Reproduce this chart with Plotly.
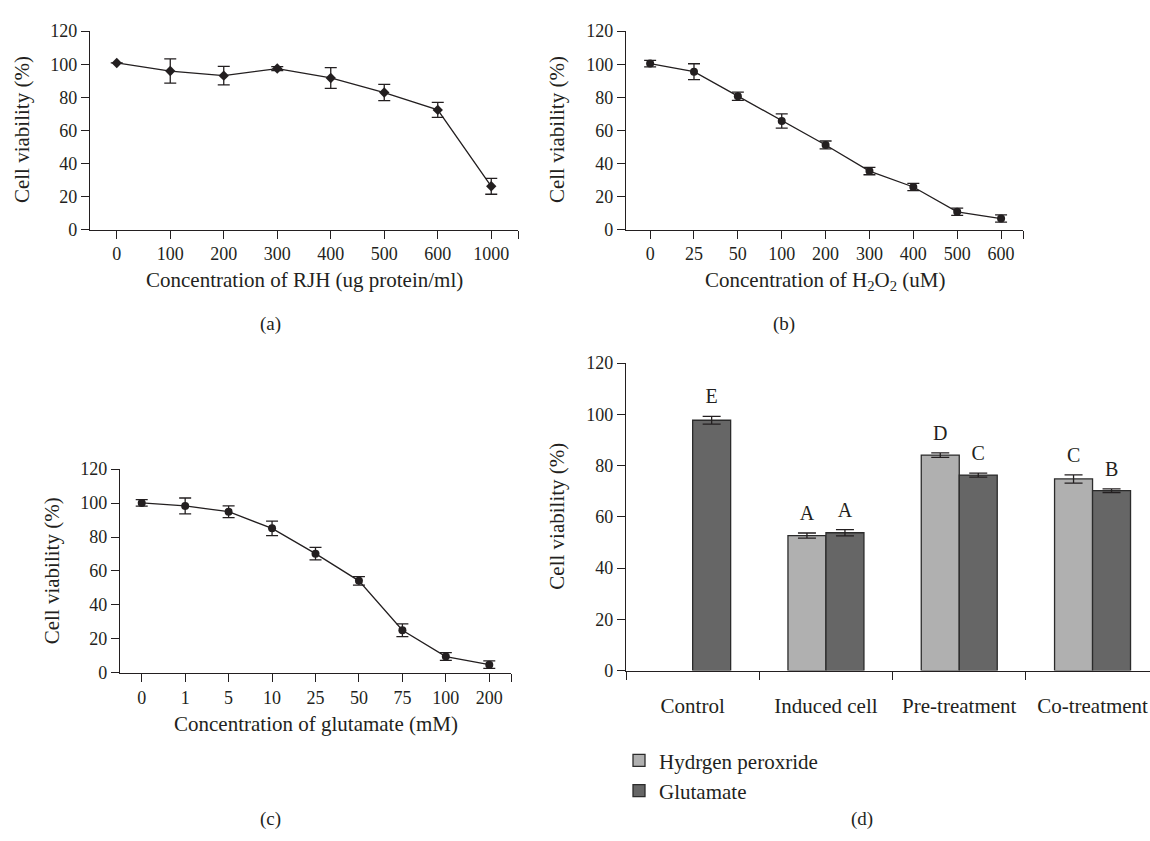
import plotly.graph_objects as go

# ---------------- data ----------------
a_labels = ["0", "100", "200", "300", "400", "500", "600", "1000"]
a_values = [100.8, 95.9, 93.1, 97.4, 91.7, 82.9, 72.4, 26.2]
a_errors = [0.0, 7.3, 5.6, 1.2, 6.3, 4.9, 4.5, 4.8]

b_labels = ["0", "25", "50", "100", "200", "300", "400", "500", "600"]
b_values = [100.4, 95.5, 80.7, 65.7, 51.2, 35.4, 25.8, 10.8, 6.7]
b_errors = [2.0, 4.8, 2.5, 4.3, 2.4, 2.2, 2.2, 2.2, 2.2]

c_labels = ["0", "1", "5", "10", "25", "50", "75", "100", "200"]
c_values = [100.1, 98.3, 94.9, 85.1, 70.2, 54.2, 25.1, 9.6, 4.8]
c_errors = [1.9, 4.7, 3.5, 4.3, 3.7, 2.5, 3.8, 2.3, 2.2]

d_groups = ["Control", "Induced cell", "Pre-treatment", "Co-treatment"]
d_h2o2 = [None, 52.7, 84.1, 74.8]
d_h2o2_err = [0.0, 1.0, 0.9, 1.6]
d_h2o2_letters = ["", "A", "D", "C"]
d_glu = [97.7, 53.8, 76.3, 70.2]
d_glu_err = [1.5, 1.2, 0.8, 0.7]
d_glu_letters = ["E", "A", "C", "B"]

y_ticks = [0, 20, 40, 60, 80, 100, 120]

# ---------------- style ----------------
INK = "#231f20"
FONT = "Liberation Serif"
FS_NUM = 18     # numeric tick labels
FS_TXT = 21     # word labels / titles
FS_LET = 20     # significance letters
LIGHT = "#b0b0b0"
DARK = "#666666"
BAR_W = 0.285
LETTER_PAD = 7

W, H = 1150, 841


def px_x(p):
    return p / W


def px_y(p):
    return 1 - p / H


fig = go.Figure()


def line_panel(xa, ya, labels, values, errors, symbol, size):
    idx = list(range(len(labels)))
    fig.add_trace(go.Scatter(
        x=idx, y=values, xaxis=xa, yaxis=ya, mode="lines+markers",
        line=dict(color=INK, width=1.3),
        marker=dict(symbol=symbol, size=size, color=INK),
        error_y=dict(type="data", array=errors, visible=True, color=INK,
                     thickness=1.3, width=6),
        showlegend=False, hoverinfo="x+y"))


line_panel("x", "y", a_labels, a_values, a_errors, "diamond", 8)
line_panel("x2", "y2", b_labels, b_values, b_errors, "circle", 8)
line_panel("x3", "y3", c_labels, c_values, c_errors, "circle", 8)

# ---------------- bar panel (d) ----------------
d_idx = list(range(len(d_groups)))
fig.add_trace(go.Bar(
    x=d_idx, y=d_h2o2, xaxis="x4", yaxis="y4", name="Hydrgen peroxride",
    width=BAR_W, offset=-BAR_W,
    marker=dict(color=LIGHT, line=dict(color="#2b2b2b", width=1.3)),
    error_y=dict(type="data", array=d_h2o2_err, visible=True, color=INK,
                 thickness=1.3, width=9)))
fig.add_trace(go.Bar(
    x=d_idx, y=d_glu, xaxis="x4", yaxis="y4", name="Glutamate",
    width=BAR_W, offset=0,
    marker=dict(color=DARK, line=dict(color="#2b2b2b", width=1.3)),
    error_y=dict(type="data", array=d_glu_err, visible=True, color=INK,
                 thickness=1.3, width=9)))

# significance letters
lx, ly, lt = [], [], []
for i in d_idx:
    if d_h2o2[i] is not None and d_h2o2_letters[i]:
        lx.append(i - BAR_W / 2)
        ly.append(d_h2o2[i] + d_h2o2_err[i] + LETTER_PAD)
        lt.append(d_h2o2_letters[i])
    if d_glu[i] is not None and d_glu_letters[i]:
        lx.append(i + BAR_W / 2)
        ly.append(d_glu[i] + d_glu_err[i] + LETTER_PAD)
        lt.append(d_glu_letters[i])
fig.add_trace(go.Scatter(
    x=lx, y=ly, text=lt, mode="text", xaxis="x4", yaxis="y4",
    textposition="middle center",
    textfont=dict(family=FONT, size=FS_LET, color=INK),
    showlegend=False, hoverinfo="skip"))

# ---------------- axes ----------------
base = dict(showline=True, linecolor=INK, linewidth=1.3, ticks="outside",
            ticklen=8, tickwidth=1.3, tickcolor=INK, showgrid=False,
            zeroline=False, tickfont=dict(family=FONT, size=FS_NUM, color=INK),
            fixedrange=True)


def yax(dom, anchor):
    return dict(base, domain=dom, anchor=anchor, range=[0, 120],
                tickmode="array", tickvals=y_ticks)


def xax_cat(dom, anchor, labels, lo, hi):
    n = len(labels)
    return dict(base, domain=dom, anchor=anchor, range=[lo, hi],
                tickmode="array", tickvals=list(range(n)), ticktext=labels,
                minor=dict(tickmode="array", tickvals=[hi], ticks="outside",
                           ticklen=8, tickwidth=1.3, tickcolor=INK,
                           showgrid=False))


ya_dom = [px_y(225), px_y(21.7)]
yc_dom = [px_y(679), px_y(470.3)]
yd_dom = [px_y(676.7), px_y(361.7)]

fig.update_layout(
    xaxis=xax_cat([px_x(90), px_x(518)], "y", a_labels, -0.5, 7.5),
    yaxis=yax(ya_dom, "x"),
    xaxis2=xax_cat([px_x(626), px_x(1023)], "y2", b_labels, -0.55, 8.5),
    yaxis2=yax(ya_dom, "x2"),
    xaxis3=xax_cat([px_x(120), px_x(511)], "y3", c_labels, -0.5, 8.5),
    yaxis3=yax(yc_dom, "x3"),
    xaxis4=dict(base, domain=[px_x(626), 1.0], anchor="y4",
                range=[-0.5, -0.5 + (W - 626) / 133.3],
                tickmode="array", tickvals=d_idx, ticktext=d_groups,
                ticks="", ticklabelstandoff=16,
                tickfont=dict(family=FONT, size=FS_TXT, color=INK),
                minor=dict(tickmode="array", tickvals=[-0.5, 0.5, 1.5, 2.5],
                           ticks="outside", ticklen=8, tickwidth=1.3,
                           tickcolor=INK, showgrid=False)),
    yaxis4=yax(yd_dom, "x4"),
)

# ---------------- text ----------------
ann = []


def text(x, y, s, angle=0, size=FS_TXT):
    ann.append(dict(x=px_x(x), y=px_y(y), xref="paper", yref="paper",
                    text=s, showarrow=False, textangle=angle,
                    xanchor="center", yanchor="middle",
                    font=dict(family=FONT, size=size, color=INK)))


text(304, 277, "Concentration of RJH (ug protein/ml)")
text(22, 123, "Cell viability (%)", -90)
text(825, 278, "Concentration of H<sub>2</sub>O<sub>2</sub> (uM)")
text(557, 123, "Cell viability (%)", -90)
text(316, 731, "Concentration of glutamate (mM)")
text(52, 575, "Cell viability (%)", -90)
text(557, 519, "Cell viability (%)", -90)
text(270, 322, "(a)", size=19)
text(784, 322, "(b)", size=19)
text(270, 829, "(c)", size=19)
text(862, 829, "(d)", size=19)

fig.update_layout(
    annotations=ann,
    width=W, height=H,
    margin=dict(l=0, r=0, t=0, b=0),
    paper_bgcolor="white", plot_bgcolor="white",
    barmode="overlay",
    showlegend=True,
    legend=dict(x=px_x(619), y=px_y(748), xanchor="left", yanchor="top",
                font=dict(family=FONT, size=FS_TXT, color=INK),
                bgcolor="rgba(0,0,0,0)", traceorder="normal",
                tracegroupgap=0),
    font=dict(family=FONT, size=FS_NUM, color=INK),
)

fig.write_html(
    "out.html",
    config={"displayModeBar": False},
    post_script="document.body.style.margin='0';"
                "document.body.style.overflow='hidden';",
)
